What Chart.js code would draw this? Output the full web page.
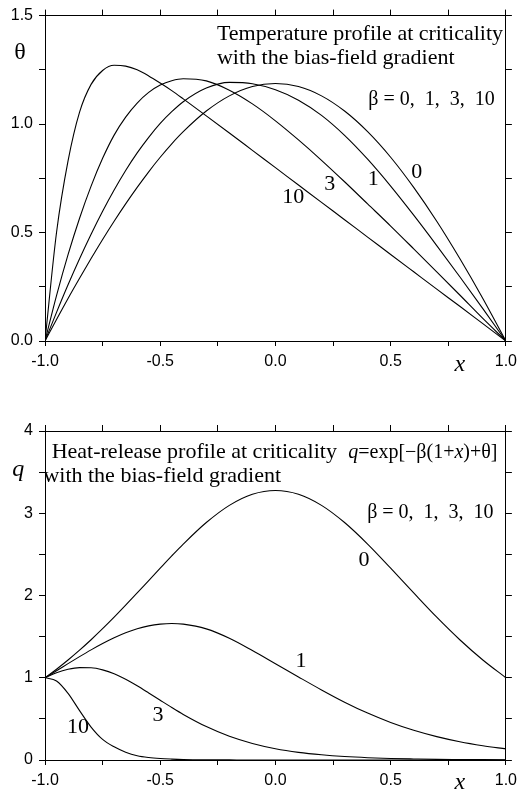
<!DOCTYPE html>
<html>
<head>
<meta charset="utf-8">
<script src="https://cdn.jsdelivr.net/npm/chart.js"></script>
<style>
  html, body { margin: 0; padding: 0; background: #fff; }
  #wrap { position: relative; width: 523px; height: 791px; }
  canvas { position: absolute; left: 0; }
  #topChart { top: 0; }
  #bottomChart { top: 390px; }
</style>
</head>
<body>
<div id="wrap">
  <canvas id="topChart" width="523" height="390"></canvas>
  <canvas id="bottomChart" width="523" height="401"></canvas>
</div>
<script>
// sample positions along x (finer near the left wall where the curves are steep)
const xs = [-1, -0.95, -0.9, -0.85, -0.8, -0.75, -0.7, -0.65, -0.6, -0.55, -0.5, -0.45,
            -0.4, -0.3, -0.2, -0.1, 0, 0.1, 0.2, 0.3, 0.4, 0.5, 0.6, 0.7, 0.8, 0.9, 1];
const betaLabels = ['0', '1', '3', '10'];

// upper panel: temperature theta(x) for beta = 0, 1, 3, 10
const theta0  = [0, 0.099, 0.196, 0.289, 0.380, 0.468, 0.552, 0.632, 0.708, 0.780, 0.847, 0.909, 0.965, 1.060, 1.130, 1.173, 1.187, 1.173, 1.130, 1.060, 0.965, 0.847, 0.708, 0.552, 0.380, 0.196, 0];
const theta1  = [0, 0.132, 0.259, 0.379, 0.492, 0.598, 0.696, 0.786, 0.867, 0.939, 1.003, 1.057, 1.103, 1.166, 1.192, 1.186, 1.158, 1.110, 1.040, 0.948, 0.838, 0.714, 0.580, 0.440, 0.296, 0.149, 0];
const theta3  = [0, 0.209, 0.398, 0.566, 0.714, 0.842, 0.949, 1.032, 1.097, 1.146, 1.180, 1.200, 1.209, 1.199, 1.156, 1.093, 1.015, 0.927, 0.833, 0.734, 0.632, 0.530, 0.425, 0.319, 0.212, 0.104, 0];
const theta10 = [0, 0.500, 0.830, 1.055, 1.183, 1.247, 1.271, 1.267, 1.250, 1.222, 1.189, 1.154, 1.116, 1.038, 0.959, 0.879, 0.799, 0.719, 0.639, 0.559, 0.479, 0.399, 0.319, 0.239, 0.160, 0.080, 0];

// lower panel: heat release q(x) for beta = 0, 1, 3, 10
const q0  = [1, 1.104, 1.216, 1.335, 1.462, 1.596, 1.736, 1.882, 2.031, 2.182, 2.332, 2.481, 2.625, 2.887, 3.096, 3.231, 3.277, 3.231, 3.096, 2.887, 2.625, 2.332, 2.031, 1.736, 1.462, 1.216, 1];
const q1  = [1, 1.085, 1.172, 1.257, 1.339, 1.416, 1.486, 1.547, 1.595, 1.631, 1.652, 1.660, 1.652, 1.594, 1.480, 1.331, 1.171, 1.010, 0.852, 0.703, 0.570, 0.456, 0.361, 0.284, 0.222, 0.174, 0.135];
const q3  = [1, 1.061, 1.103, 1.123, 1.121, 1.096, 1.050, 0.982, 0.902, 0.815, 0.726, 0.638, 0.554, 0.406, 0.288, 0.201, 0.137, 0.093, 0.063, 0.042, 0.028, 0.019, 0.013, 0.008, 0.006, 0.004, 0.0025];
const q10 = [1, 0.960, 0.810, 0.600, 0.400, 0.250, 0.160, 0.095, 0.052, 0.030, 0.018, 0.011, 0.006, 0.002, 0.001, 0, 0, 0, 0, 0, 0, 0, 0, 0, 0, 0, 0];

const xTicks = ['-1.0', '-0.5', '0.0', '0.5', '1.0'];
const thetaTicks = ['0.0', '0.5', '1.0', '1.5'];
const qTicks = ['0', '1', '2', '3', '4'];

const SERIF = '"Liberation Serif", "Times New Roman", serif';
const SANS = '"Liberation Sans", Arial, sans-serif';

function series(ys) {
  return xs.map((x, i) => ({ x: x, y: ys[i] }));
}

function curves(list) {
  return list.map((ys, i) => ({
    label: 'beta = ' + betaLabels[i],
    data: series(ys),
    borderColor: '#000',
    borderWidth: 1.1,
    pointRadius: 0,
    fill: false,
    cubicInterpolationMode: 'monotone',
    xAxisID: 'x',
    yAxisID: 'y'
  }));
}

// labelled every `major`, minor tick marks every `step`
function labelAt(v, major, labels, min) {
  const k = (v - min) / major;
  if (Math.abs(k - Math.round(k)) > 1e-6) return '';
  return labels[Math.round(k)];
}

function buildScales(ymax, ystep, ymajor, ylabels, topH, bottomH) {
  const tickFont = { family: SANS, size: 16 };
  const line = { drawOnChartArea: false, color: '#000', lineWidth: 1 };
  const border = { color: '#000', width: 1 };
  return {
    x: {
      type: 'linear', position: 'bottom', min: -1, max: 1,
      ticks: { stepSize: 0.25, autoSkip: false, maxRotation: 0, padding: 6, color: '#000', font: tickFont,
               callback: v => labelAt(v, 0.5, xTicks, -1) },
      grid: Object.assign({ tickLength: 5 }, line),
      border: border,
      afterFit: s => { s.height = bottomH; }
    },
    x2: {
      type: 'linear', position: 'top', min: -1, max: 1,
      ticks: { stepSize: 0.25, autoSkip: false, display: false },
      grid: Object.assign({ tickLength: 6 }, line),
      border: border,
      afterFit: s => { s.height = topH; }
    },
    y: {
      type: 'linear', position: 'left', min: 0, max: ymax,
      ticks: { stepSize: ystep, autoSkip: false, padding: 6, color: '#000', font: tickFont,
               callback: v => labelAt(v, ymajor, ylabels, 0) },
      grid: Object.assign({ tickLength: 6 }, line),
      border: border,
      afterFit: s => { s.width = 45; }
    },
    y2: {
      type: 'linear', position: 'right', min: 0, max: ymax,
      ticks: { stepSize: ystep, autoSkip: false, display: false },
      grid: Object.assign({ tickLength: 6 }, line),
      border: border,
      afterFit: s => { s.width = 17; }
    }
  };
}

// texts placed in data coordinates of the panel
function textPlugin(items) {
  return {
    id: 'panelText',
    afterDraw(chart) {
      const ctx = chart.ctx;
      const sx = chart.scales.x, sy = chart.scales.y;
      ctx.save();
      ctx.fillStyle = '#000';
      items.forEach(it => {
        let px = sx.getPixelForValue(it.x);
        const py = sy.getPixelForValue(it.y);
        const parts = it.parts || [[it.text, false]];
        ctx.textBaseline = it.base || 'alphabetic';
        if (it.align === 'center') {
          ctx.textAlign = 'center';
          ctx.font = (parts[0][1] ? 'italic ' : '') + it.size + 'px ' + SERIF;
          ctx.fillText(parts[0][0], px, py);
          return;
        }
        ctx.textAlign = 'left';
        parts.forEach(p => {
          ctx.font = (p[1] ? 'italic ' : '') + it.size + 'px ' + SERIF;
          ctx.fillText(p[0], px, py);
          px += ctx.measureText(p[0]).width;
        });
      });
      ctx.restore();
    }
  };
}

const topTexts = [
  { x: -0.254, y: 1.388, size: 22, text: 'Temperature profile at criticality' },
  { x: -0.254, y: 1.277, size: 22, text: 'with the bias-field gradient' },
  { x: 0.403, y: 1.086, size: 20, text: '\u03b2 = 0,  1,  3,  10' },
  { x: 0.613, y: 0.779, size: 22, text: '0', align: 'center', base: 'middle' },
  { x: 0.424, y: 0.748, size: 22, text: '1', align: 'center', base: 'middle' },
  { x: 0.236, y: 0.725, size: 22, text: '3', align: 'center', base: 'middle' },
  { x: 0.077, y: 0.664, size: 22, text: '10', align: 'center', base: 'middle' },
  { x: -1.108, y: 1.331, size: 24, text: '\u03b8', align: 'center', base: 'middle' },
  { x: 0.800, y: -0.110, size: 24, parts: [['x', true]], align: 'center', base: 'middle' }
];

const bottomTexts = [
  { x: -0.971, y: 3.675, size: 22, text: 'Heat-release profile at criticality' },
  { x: -1.007, y: 3.384, size: 22, text: 'with the bias-field gradient' },
  { x: 0.316, y: 3.675, size: 20,
    parts: [['q', true], ['=exp[\u2212\u03b2(1+', false], ['x', true], [')+\u03b8]', false]] },
  { x: 0.398, y: 2.939, size: 20, text: '\u03b2 = 0,  1,  3,  10' },
  { x: 0.384, y: 2.43, size: 22, text: '0', align: 'center', base: 'middle' },
  { x: 0.111, y: 1.20, size: 22, text: '1', align: 'center', base: 'middle' },
  { x: -0.510, y: 0.547, size: 22, text: '3', align: 'center', base: 'middle' },
  { x: -0.857, y: 0.40, size: 22, text: '10', align: 'center', base: 'middle' },
  { x: -1.116, y: 3.526, size: 24, parts: [['q', true]], align: 'center', base: 'middle' },
  { x: 0.800, y: -0.280, size: 24, parts: [['x', true]], align: 'center', base: 'middle' }
];

const common = {
  responsive: false,
  animation: false,
  devicePixelRatio: 1,
  layout: { padding: 0 },
  plugins: { legend: { display: false }, tooltip: { enabled: false } }
};

new Chart(document.getElementById('topChart').getContext('2d'), {
  type: 'line',
  data: { datasets: curves([theta0, theta1, theta3, theta10]) },
  options: Object.assign({}, common, {
    scales: buildScales(1.5, 0.25, 0.5, thetaTicks, 15, 49)
  }),
  plugins: [textPlugin(topTexts)]
});

new Chart(document.getElementById('bottomChart').getContext('2d'), {
  type: 'line',
  data: { datasets: curves([q0, q1, q3, q10]) },
  options: Object.assign({}, common, {
    scales: buildScales(4, 0.5, 1, qTicks, 41, 31)
  }),
  plugins: [textPlugin(bottomTexts)]
});
</script>
</body>
</html>
